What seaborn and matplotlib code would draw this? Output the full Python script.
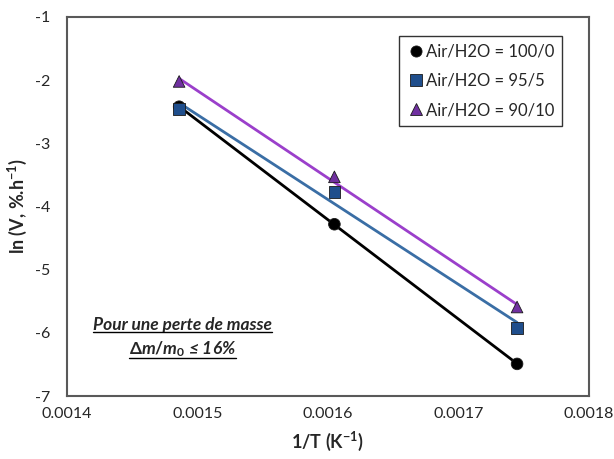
import seaborn as sns
import matplotlib.pyplot as plt
from matplotlib.lines import Line2D
import pandas as pd

inv_T = [0.001486, 0.001605, 0.001745]
ln_v_100_0 = [-2.42, -4.28, -6.49]
ln_v_95_5 = [-2.46, -3.77, -5.92]
ln_v_90_10 = [-2.02, -3.53, -5.59]
series_names = ['Air/H2O = 100/0', 'Air/H2O = 95/5', 'Air/H2O = 90/10']

df = pd.DataFrame({
    'x': inv_T * 3,
    'y': ln_v_100_0 + ln_v_95_5 + ln_v_90_10,
    'Serie': [s for s in series_names for _ in inv_T],
})

marker_colors = {'Air/H2O = 100/0': 'black', 'Air/H2O = 95/5': '#1F4E8C', 'Air/H2O = 90/10': '#7030A0'}
line_colors = {'Air/H2O = 100/0': 'black', 'Air/H2O = 95/5': '#3A6EA5', 'Air/H2O = 90/10': '#9B3FCB'}
markers = {'Air/H2O = 100/0': 'o', 'Air/H2O = 95/5': 's', 'Air/H2O = 90/10': '^'}

sns.set_style('white')
plt.rcParams['font.family'] = ['Lato', 'DejaVu Sans']
plt.rcParams['axes.unicode_minus'] = False
plt.rcParams['mathtext.fontset'] = 'custom'
plt.rcParams['mathtext.rm'] = 'Lato:bold'
plt.rcParams['mathtext.it'] = 'Lato:italic:bold'
plt.rcParams['mathtext.bf'] = 'Lato:bold'

fig = plt.figure(figsize=(6.14, 4.59), dpi=100)
ax = fig.add_axes([0.109, 0.137, 0.850, 0.826])

# droites de regression (tendance lineaire)
for s in series_names:
    sub = df[df['Serie'] == s]
    sns.regplot(x='x', y='y', data=sub, ax=ax, scatter=False, ci=None, truncate=True,
                line_kws={'color': line_colors[s], 'lw': 2, 'zorder': 2})

sns.scatterplot(x='x', y='y', data=df, hue='Serie', style='Serie', ax=ax,
                palette=marker_colors, markers=markers, s=70,
                edgecolor='#1a1a1a', linewidth=0.6, zorder=3)

ax.set_xlim(0.0014, 0.0018)
ax.set_ylim(-7, -1)
ax.set_xticks([0.0014, 0.0015, 0.0016, 0.0017, 0.0018])
ax.set_xticklabels(['0.0014', '0.0015', '0.0016', '0.0017', '0.0018'])
ax.set_xticks([0.00145, 0.00155, 0.00165, 0.00175], minor=True)
ax.set_yticks([-1, -2, -3, -4, -5, -6, -7])
ax.set_yticks([-1.5, -2.5, -3.5, -4.5, -5.5, -6.5], minor=True)
ax.tick_params(axis='x', which='both', direction='in', length=5, width=1, color='#595959',
               labelsize=11.5, pad=8)
ax.tick_params(axis='y', which='major', length=0, labelsize=11.5, pad=12)
ax.tick_params(axis='y', which='minor', direction='in', length=5, width=1, color='#595959')

for sp in ax.spines.values():
    sp.set_color('#595959')
    sp.set_linewidth(1.5)

ax.set_xlabel('1/T (K$^{-1}$)', fontsize=13, fontweight='bold', labelpad=6)
ax.set_ylabel('ln (V, %.h$^{-1}$)', fontsize=13, fontweight='bold', labelpad=4)

handles = [Line2D([], [], linestyle='none', marker=markers[s], markersize=8,
                  markerfacecolor=marker_colors[s], markeredgecolor='#1a1a1a', markeredgewidth=0.6)
           for s in series_names]
leg = ax.legend(handles, series_names, loc='upper right', bbox_to_anchor=(0.965, 0.972),
                fontsize=12, frameon=True, fancybox=False, edgecolor='black',
                handletextpad=0.1, borderpad=0.45, labelspacing=0.8, handlelength=1.1)
leg.get_frame().set_linewidth(1)

t1 = ax.text(0.222, 0.187, 'Pour une perte de masse', transform=ax.transAxes, ha='center',
             va='center', fontsize=12.5, fontweight='bold', style='italic')
t2 = ax.text(0.222, 0.125, r'$\mathit{\Delta m/m_0}$ ' + '\u2264 16%',
             transform=ax.transAxes, ha='center',
             va='center', fontsize=12.5, fontweight='bold', style='italic')

# soulignement du texte
fig.canvas.draw()
r = fig.canvas.get_renderer()
for t in (t1, t2):
    bb = t.get_window_extent(r)
    fig.add_artist(Line2D([bb.x0 / fig.bbox.width, bb.x1 / fig.bbox.width],
                          [(bb.y0 + 1) / fig.bbox.height] * 2, color='black', lw=1))

fig.savefig('out.png', dpi=100)
